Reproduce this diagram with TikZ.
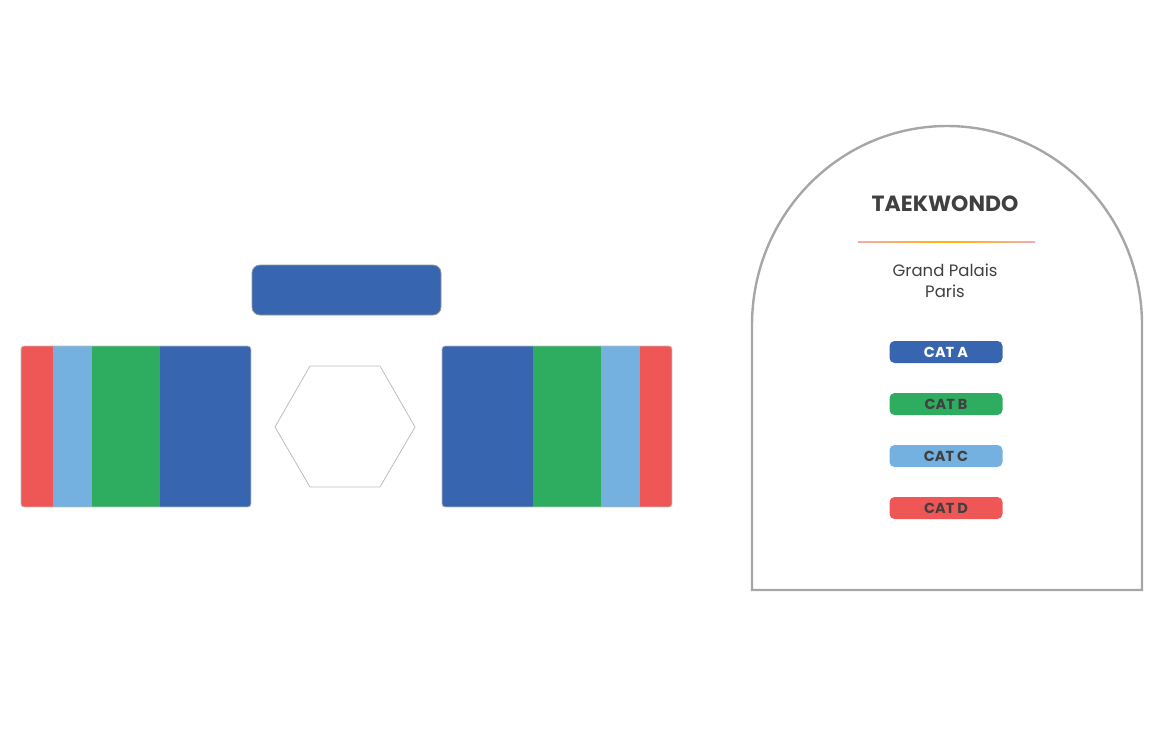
\documentclass[tikz,border=0pt]{standalone}
\usepackage{fontspec}
\setmainfont{Poppins}
\usepackage{tikz}

\definecolor{catA}{HTML}{3765AF}
\definecolor{catB}{HTML}{2EAC5F}
\definecolor{catC}{HTML}{74B0E0}
\definecolor{catD}{HTML}{EE5755}
\definecolor{ink}{HTML}{404040}
\definecolor{rim}{HTML}{BDBDBD}

\begin{document}
\begin{tikzpicture}
  [x=1pt,y=-1pt,every node/.style={text=ink,inner sep=0pt}]

  \tikzstyle{badge} = [rounded corners=5pt,minimum width=113pt,minimum height=22pt,
                       font=\fontsize{14.5}{14.5}\selectfont\bfseries]
  \tikzstyle{mat}   = [draw=rim,line width=0.8pt,rounded corners=3pt]

  \useasboundingbox (0,0) rectangle (1159,748);

  % referee table
  \draw[fill=catA,draw=rim!80!black,line width=0.8pt,rounded corners=8pt]
        (252,265) rectangle (441,315);

  % left mat
  \begin{scope}
    \clip[rounded corners=3pt] (21,346) rectangle (251,507);
    \fill[catD] (21,346)  rectangle (53,507);
    \fill[catC] (53,346)  rectangle (92,507);
    \fill[catB] (92,346)  rectangle (160,507);
    \fill[catA] (160,346) rectangle (251,507);
  \end{scope}
  \draw[mat] (21,346) rectangle (251,507);

  % hexagon
  \draw[rim,line width=0.8pt] (275,427) -- (310,366) -- (380,366) -- (415,427)
        -- (380,487) -- (310,487) -- cycle;

  % right mat
  \begin{scope}
    \clip[rounded corners=3pt] (442,346) rectangle (672,507);
    \fill[catA] (442,346) rectangle (533,507);
    \fill[catB] (533,346) rectangle (601,507);
    \fill[catC] (601,346) rectangle (640,507);
    \fill[catD] (640,346) rectangle (672,507);
  \end{scope}
  \draw[mat] (442,346) rectangle (672,507);

  % legend panel
  \draw[rim!88!black,line width=2.4pt] (752,590) -- (752,325)
        arc[start angle=180,end angle=360,x radius=195,y radius=199]
        -- (1142,590) -- cycle;

  \node[font=\fontsize{22}{22}\selectfont\bfseries] (title) at (945,204) {TAEKWONDO};
  \shade[left color=catD!50,right color=catD!50,middle color=orange!60!yellow]
        (858,241.3) rectangle (1035,242.7);
  \node[font=\fontsize{16.5}{21}\selectfont,align=center] (venue) at (945,280.5)
        {Grand Palais\\Paris};

  \node[badge,fill=catA,text=white] (a) at (946,352) {CAT A};
  \node[badge,fill=catB]            (b) at (946,404) {CAT B};
  \node[badge,fill=catC]            (c) at (946,456) {CAT C};
  \node[badge,fill=catD]            (d) at (946,508) {CAT D};
\end{tikzpicture}
\end{document}
